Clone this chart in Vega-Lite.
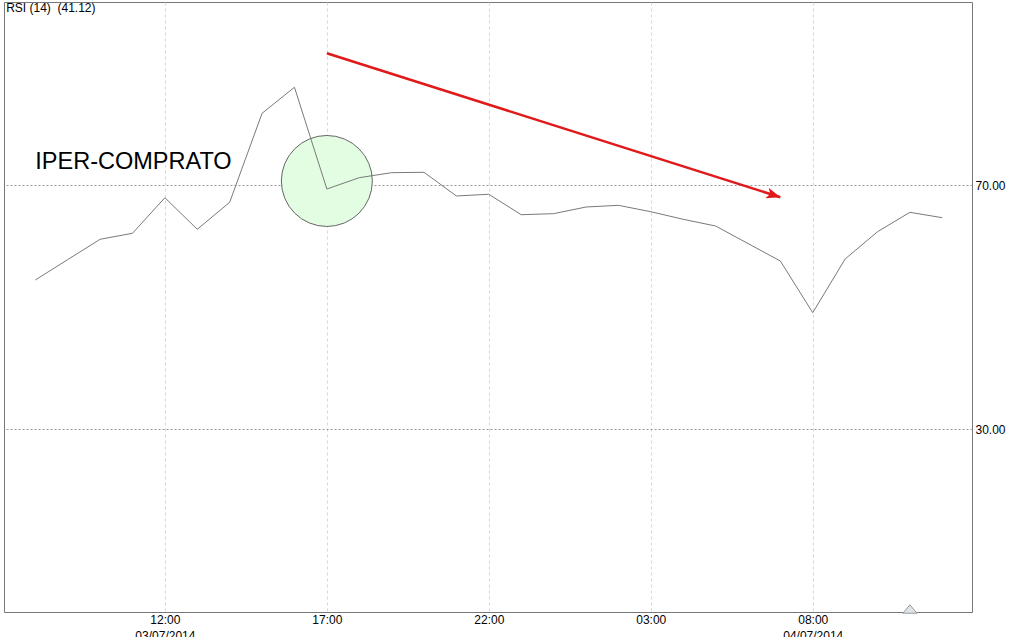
{
  "$schema": "https://vega.github.io/schema/vega-lite/v6.json",
  "width": 968,
  "height": 610,
  "padding": {"left": 4, "top": 2, "right": 0, "bottom": 0},
  "background": "white",
  "config": {
    "view": {"stroke": "#777", "strokeWidth": 1},
    "font": "Liberation Sans"
  },
  "layer": [
    {
      "data": {"values": [{"t": "2014-07-03T17:00", "v": 70.66}]},
      "mark": {"type": "point", "shape": "circle", "size": 8281, "filled": true, "fill": "#e2fde2", "fillOpacity": 1, "stroke": "#666", "strokeWidth": 1},
      "encoding": {
        "x": {"field": "t", "type": "temporal"},
        "y": {"field": "v", "type": "quantitative"}
      }
    },
    {
      "data": {"values": [
        {"t": "2014-07-03T08:00", "v": 54.43},
        {"t": "2014-07-03T09:00", "v": 57.77},
        {"t": "2014-07-03T10:00", "v": 61.10},
        {"t": "2014-07-03T11:00", "v": 62.08},
        {"t": "2014-07-03T12:00", "v": 67.92},
        {"t": "2014-07-03T13:00", "v": 62.74},
        {"t": "2014-07-03T14:00", "v": 67.16},
        {"t": "2014-07-03T15:00", "v": 81.75},
        {"t": "2014-07-03T16:00", "v": 86.02},
        {"t": "2014-07-03T17:00", "v": 69.34},
        {"t": "2014-07-03T18:00", "v": 71.20},
        {"t": "2014-07-03T19:00", "v": 72.02},
        {"t": "2014-07-03T20:00", "v": 72.08},
        {"t": "2014-07-03T21:00", "v": 68.20},
        {"t": "2014-07-03T22:00", "v": 68.48},
        {"t": "2014-07-03T23:00", "v": 65.13},
        {"t": "2014-07-04T00:00", "v": 65.30},
        {"t": "2014-07-04T01:00", "v": 66.39},
        {"t": "2014-07-04T02:00", "v": 66.67},
        {"t": "2014-07-04T03:00", "v": 65.62},
        {"t": "2014-07-04T04:00", "v": 64.38},
        {"t": "2014-07-04T05:00", "v": 63.28},
        {"t": "2014-07-04T06:00", "v": 60.41},
        {"t": "2014-07-04T07:00", "v": 57.54},
        {"t": "2014-07-04T08:00", "v": 49.07},
        {"t": "2014-07-04T09:00", "v": 57.87},
        {"t": "2014-07-04T10:00", "v": 62.34},
        {"t": "2014-07-04T11:00", "v": 65.52},
        {"t": "2014-07-04T12:00", "v": 64.64}
      ]},
      "mark": {"type": "line", "color": "#7a7a7a", "strokeWidth": 1},
      "encoding": {
        "x": {
          "field": "t", "type": "temporal",
          "scale": {"domain": [
            {"year": 2014, "month": 7, "date": 3, "hours": 7, "minutes": 2},
            {"year": 2014, "month": 7, "date": 4, "hours": 12, "minutes": 55}
          ]},
          "axis": {
            "title": null,
            "values": [
              {"year": 2014, "month": 7, "date": 3, "hours": 12},
              {"year": 2014, "month": 7, "date": 3, "hours": 17},
              {"year": 2014, "month": 7, "date": 3, "hours": 22},
              {"year": 2014, "month": 7, "date": 4, "hours": 3},
              {"year": 2014, "month": 7, "date": 4, "hours": 8}
            ],
            "labelExpr": "(hours(datum.value) == 12 || hours(datum.value) == 8) ? [timeFormat(datum.value, '%H:%M'), timeFormat(datum.value, '%d/%m/%Y')] : timeFormat(datum.value, '%H:%M')",
            "labelFontSize": 12,
            "labelColor": "#000",
            "labelPadding": 2,
            "labelLineHeight": 16,
            "labelFlush": false,
            "labelOverlap": false,
            "ticks": false,
            "domain": false,
            "grid": true,
            "gridColor": "#d8d8d8",
            "gridDash": [3, 3],
            "gridWidth": 1
          }
        },
        "y": {
          "field": "v", "type": "quantitative",
          "scale": {"domain": [0, 100], "nice": false, "zero": false},
          "axis": {
            "title": null,
            "orient": "right",
            "values": [30, 70],
            "format": ".2f",
            "labelFontSize": 12,
            "labelColor": "#000",
            "labelPadding": 3,
            "ticks": false,
            "domain": false,
            "grid": true,
            "gridColor": "#999",
            "gridDash": [2, 2],
            "gridWidth": 1
          }
        }
      }
    },
    {
      "data": {"values": [{"t": "2014-07-03T17:00", "v": 91.6, "t2": "2014-07-04T07:00", "v2": 68.0}]},
      "mark": {"type": "rule", "color": "#e01a1a", "strokeWidth": 2.5},
      "encoding": {
        "x": {"field": "t", "type": "temporal"},
        "y": {"field": "v", "type": "quantitative"},
        "x2": {"field": "t2"},
        "y2": {"field": "v2"}
      }
    },
    {
      "data": {"values": [{"t": "2014-07-04T07:00", "v": 68.0}]},
      "mark": {"type": "point", "shape": "M0,0L-2,-0.8L-1.5,0L-2,0.8Z", "size": 196, "filled": true, "color": "#e01a1a", "opacity": 1, "angle": 17.6},
      "encoding": {
        "x": {"field": "t", "type": "temporal"},
        "y": {"field": "v", "type": "quantitative"}
      }
    },
    {
      "data": {"values": [{"t": "2014-07-03T08:00", "v": 73.75, "label": "IPER-COMPRATO"}]},
      "mark": {"type": "text", "align": "left", "baseline": "middle", "fontSize": 23.5, "color": "#000"},
      "encoding": {
        "x": {"field": "t", "type": "temporal"},
        "y": {"field": "v", "type": "quantitative"},
        "text": {"field": "label"}
      }
    },
    {
      "data": {"values": [{"t": "2014-07-03T07:06", "v": 99.0, "label": "RSI (14)\u00a0\u00a0(41.12)"}]},
      "mark": {"type": "text", "align": "left", "baseline": "middle", "fontSize": 12, "color": "#000"},
      "encoding": {
        "x": {"field": "t", "type": "temporal"},
        "y": {"field": "v", "type": "quantitative"},
        "text": {"field": "label"}
      }
    },
    {
      "data": {"values": [{"t": "2014-07-04T11:00", "v": 0.49}]},
      "mark": {"type": "point", "shape": "M-1,0.6L1,0.6L0,-0.6Z", "size": 196, "filled": true, "fill": "#dfe4ea", "fillOpacity": 1, "stroke": "#999", "strokeWidth": 1},
      "encoding": {
        "x": {"field": "t", "type": "temporal"},
        "y": {"field": "v", "type": "quantitative"}
      }
    }
  ]
}
